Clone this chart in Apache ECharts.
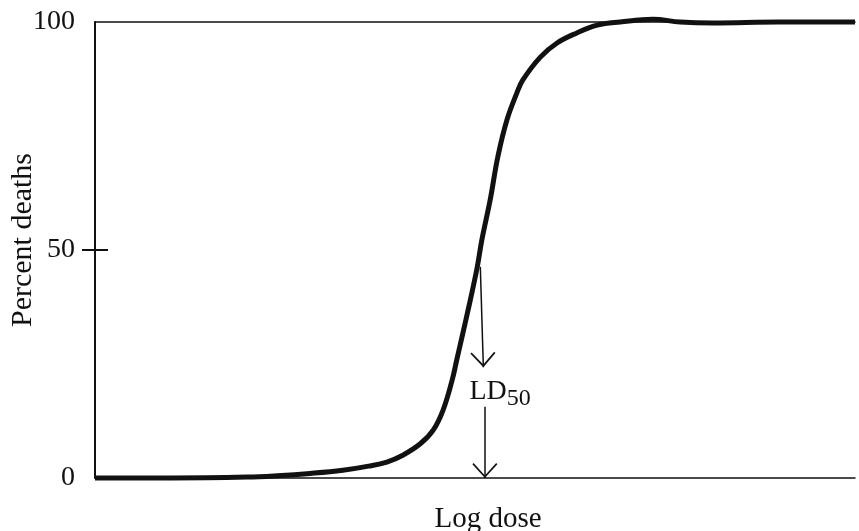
<!DOCTYPE html>
<html>
<head>
<meta charset="utf-8">
<script src="https://cdn.jsdelivr.net/npm/echarts@6/dist/echarts.min.js"></script>
<style>
html,body{margin:0;padding:0;background:#fff;}
#chart{width:859px;height:531px;}
</style>
</head>
<body>
<div id="chart"></div>
<script>
// Log dose (arbitrary units, 0-100 across the axis)
var logDose = [0, 10, 20, 24, 28.3, 32.6, 36, 38.4, 40.5, 42.8, 44.5, 45.8, 47, 47.6, 48.3, 49.3, 50.3, 50.9, 52, 53, 54.2, 55.5, 56.3, 58.6, 60.8, 63.4, 66.1, 69.1, 73.4, 77, 81.3, 90, 100];
// Percent deaths
var percentDeaths = [0, 0, 0.2, 0.5, 1.0, 1.7, 2.6, 3.5, 5.0, 7.5, 10.5, 14.9, 21.5, 25.9, 31, 38.4, 46.3, 52.2, 61, 70.4, 78.5, 84.4, 87.3, 92.3, 95.4, 97.6, 99.3, 100, 100.6, 100, 99.8, 100, 100];
var yTicks = [0, 50, 100];
var ld50Dose = 51.2;
var upperArrow = [[50.7, 46.3], [51.1, 24.3]];
var lowerArrow = [[51.3, 15.6], [51.3, 0]];
var ld50LabelAt = [ld50Dose, 19];

var curve = logDose.map(function (x, i) { return [x, percentDeaths[i]]; });
var serif = '"Liberation Serif", "DejaVu Serif", serif';
var ink = '#111';
var chevron = 'path://M12.5,0 L25,13.8 L23.8,15 L12.5,2.6 L1.2,15 L0,13.8 Z';

var chart = echarts.init(document.getElementById('chart'));
chart.setOption({
  animation: false,
  backgroundColor: '#fff',
  grid: { left: 95, right: 4, top: 22, bottom: 53, containLabel: false, outerBoundsMode: 'none' },
  xAxis: [{
    type: 'value', min: 0, max: 100, position: 'bottom',
    name: 'Log dose', nameLocation: 'middle', nameGap: 27, nameMoveOverlap: false,
    nameTextStyle: { fontFamily: serif, fontSize: 29, color: ink, padding: [0, 0, 0, 26] },
    axisLine: { show: true, lineStyle: { color: ink, width: 1.5 } },
    axisTick: { show: false }, axisLabel: { show: false }, splitLine: { show: false }
  }, {
    type: 'value', min: 0, max: 100, position: 'top',
    axisLine: { show: true, onZero: false, lineStyle: { color: ink, width: 1.5 } },
    axisTick: { show: false }, axisLabel: { show: false }, splitLine: { show: false }
  }],
  yAxis: [{
    type: 'value', min: 0, max: 100, interval: 50, position: 'left',
    name: 'Percent deaths', nameLocation: 'middle', nameGap: 57, nameRotate: 90, nameMoveOverlap: false,
    nameTextStyle: { fontFamily: serif, fontSize: 30, color: ink, padding: [0, 0, 0, 20] },
    axisLine: { show: true, lineStyle: { color: ink, width: 2 } },
    axisTick: { show: true, customValues: [50], length: 13, lineStyle: { color: ink, width: 2 } },
    axisLabel: { customValues: yTicks, fontFamily: serif, fontSize: 28, color: ink, margin: 20 },
    splitLine: { show: false }
  }, {
    type: 'value', min: 0, max: 100, interval: 50, position: 'left',
    axisLine: { show: false },
    axisTick: { show: true, inside: true, customValues: [50], length: 13, lineStyle: { color: ink, width: 2 } },
    axisLabel: { show: false }, splitLine: { show: false }
  }],
  series: [{
    type: 'line',
    data: curve,
    smooth: 0.4,
    clip: false,
    showSymbol: false,
    symbol: 'none',
    lineStyle: { color: ink, width: 5 },
    markLine: {
      silent: true,
      symbol: ['none', chevron],
      symbolSize: [25, 15],
      symbolOffset: [0, [0, 7.5]],
      lineStyle: { color: ink, width: 1.5, type: 'solid' },
      label: { show: false },
      data: [
        [{ coord: upperArrow[0] }, { coord: upperArrow[1] }],
        [{ coord: lowerArrow[0] }, { coord: lowerArrow[1] }]
      ]
    },
    markPoint: {
      silent: true,
      symbol: 'circle',
      symbolSize: 0,
      data: [{ coord: ld50LabelAt }],
      label: {
        show: true,
        position: 'inside',
        offset: [16, 0],
        formatter: '{a|LD}{b|50}',
        rich: {
          a: { fontFamily: serif, fontSize: 28, color: ink, lineHeight: 30 },
          b: { fontFamily: serif, fontSize: 24, color: ink, lineHeight: 30, padding: [14, 0, 0, 0] }
        }
      }
    }
  }]
});
</script>
</body>
</html>
